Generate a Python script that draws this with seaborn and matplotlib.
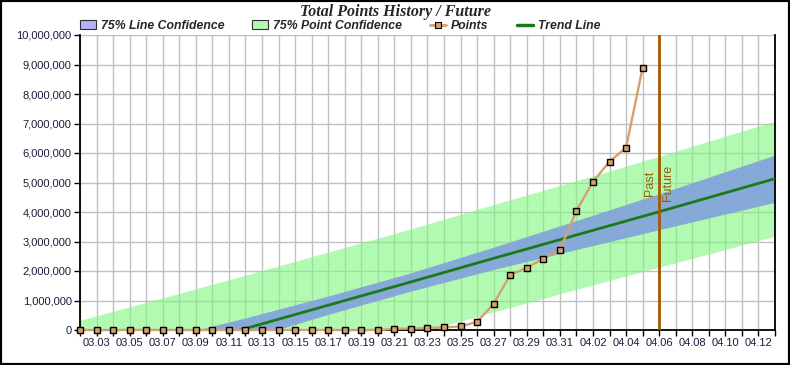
import matplotlib
matplotlib.use('Agg')
import matplotlib.pyplot as plt
import matplotlib.dates as mdates
import matplotlib.ticker as mticker
from matplotlib.patches import Patch, Rectangle
from matplotlib.lines import Line2D
from matplotlib.font_manager import FontProperties
import seaborn as sns
import pandas as pd

YEAR = '2011'

point_dates = ['03.02', '03.03', '03.04', '03.05', '03.06', '03.07', '03.08', '03.09',
               '03.10', '03.11', '03.12', '03.13', '03.14', '03.15', '03.16', '03.17',
               '03.18', '03.19', '03.20', '03.21', '03.22', '03.23', '03.24', '03.25',
               '03.26', '03.27', '03.28', '03.29', '03.30', '03.31', '04.01', '04.02',
               '04.03', '04.04', '04.05']
point_values = [0, 0, 0, 0, 0, 0, 0, 0,
                0, 0, 0, 0, 0, 0, 0, 0,
                0, 0, 0, 40000, 50000, 60000, 90000, 120000,
                280000, 890000, 1870000, 2110000, 2420000, 2720000, 4040000, 5030000,
                5710000, 6180000, 8890000]

band_dates = ['03.02', '03.07', '03.12', '03.17', '03.22', '03.27', '04.01', '04.06', '04.13']
trend_values = [-1540000, -750000, 50000, 840000, 1630000, 2430000, 3220000, 4010000, 5130000]
line_conf_low = [-2130000, -1220000, -320000, 530000, 1320000, 2050000, 2730000, 3400000, 4330000]
line_conf_high = [-950000, -280000, 410000, 1150000, 1940000, 2810000, 3710000, 4620000, 5930000]
point_conf_low = [-3410000, -2590000, -1770000, -960000, -170000, 610000, 1380000, 2130000, 3180000]
point_conf_high = [330000, 1090000, 1860000, 2640000, 3430000, 4250000, 5060000, 5890000, 7080000]

tick_labels = ['03.03', '03.05', '03.07', '03.09', '03.11', '03.13', '03.15', '03.17',
               '03.19', '03.21', '03.23', '03.25', '03.27', '03.29', '03.31', '04.02',
               '04.04', '04.06', '04.08', '04.10', '04.12']
x_range = ['03.02', '04.13']
divider_date = '04.06'
y_ticks = [0, 1000000, 2000000, 3000000, 4000000, 5000000, 6000000, 7000000, 8000000, 9000000, 10000000]

title = 'Total Points History / Future'
legend_labels = ['75% Line Confidence', '75% Point Confidence', 'Points', 'Trend Line']


def to_dt(lst):
    return pd.to_datetime([YEAR + '.' + s for s in lst], format='%Y.%m.%d')


pdates = to_dt(point_dates)
bdates = to_dt(band_dates)
tdates = to_dt(tick_labels)
xr = to_dt(x_range)
div = to_dt([divider_date])[0]

sns.set_theme(style='white')
plt.rcParams['font.family'] = ['Liberation Sans', 'DejaVu Sans']

C_GREEN = '#80f680'
C_BLUE = '#83a1dc'
C_TREND = '#1a7a1a'
C_POINTS = '#d4a070'
C_DIV = '#a05a00'
C_LABEL = '#1c1c3c'

fig = plt.figure(figsize=(7.9, 3.65), dpi=100)
fig.patch.set_facecolor('white')
ax = fig.add_axes([80 / 790, 35 / 365, 695 / 790, 295 / 365])
ax.set_facecolor('white')

ax.fill_between(bdates, point_conf_low, point_conf_high, color=C_GREEN, alpha=0.6, lw=0, zorder=1)
ax.fill_between(bdates, line_conf_low, line_conf_high, color=C_BLUE, alpha=0.9, lw=0, zorder=2)
sns.lineplot(x=bdates, y=trend_values, color=C_TREND, lw=2, ax=ax, zorder=3)
ax.axvline(div, color=C_DIV, lw=2, zorder=4)
sns.lineplot(x=pdates, y=point_values, color=C_POINTS, lw=1.7, marker='s', markersize=5,
             markerfacecolor='#d4a06c', markeredgecolor='black', markeredgewidth=1,
             ax=ax, zorder=5, clip_on=False)

ax.annotate('Past', xy=(div, 4980000), xytext=(-2, 0), textcoords='offset points',
            rotation=90, ha='right', va='center', color=C_DIV, fontsize=9)
ax.annotate('Future', xy=(div, 4980000), xytext=(2, 0), textcoords='offset points',
            rotation=90, ha='left', va='center', color=C_DIV, fontsize=9)

ax.set_xlim(xr[0], xr[1])
ax.set_ylim(0, 10000000)
ax.set_xticks(tdates)
ax.set_xticklabels(tick_labels)
ax.xaxis.set_minor_locator(mdates.DayLocator())
ax.set_yticks(y_ticks)
ax.yaxis.set_major_formatter(mticker.FuncFormatter(lambda v, p: f'{int(v):,}'))
ax.set_xlabel('')
ax.set_ylabel('')

ax.set_axisbelow(True)
ax.grid(which='both', axis='x', color='#c0c0c0', lw=1)
ax.grid(which='major', axis='y', color='#c0c0c0', lw=1)

ax.tick_params(axis='both', which='both', direction='out', length=4, width=1, color='black',
               labelcolor=C_LABEL, labelsize=8, pad=2)
ax.tick_params(axis='x', which='both', bottom=True)
ax.tick_params(axis='y', which='both', left=True)

for side in ['left', 'bottom', 'right']:
    ax.spines[side].set_visible(True)
    ax.spines[side].set_color('black')
    ax.spines[side].set_linewidth(1.3)
ax.spines['top'].set_visible(False)

handles = [
    Patch(facecolor='#b4b4f4', edgecolor='#303030', lw=0.8, label=legend_labels[0]),
    Patch(facecolor='#b4f8b4', edgecolor='#303030', lw=0.8, label=legend_labels[1]),
    Line2D([], [], color=C_POINTS, lw=2, marker='s', markersize=5, markerfacecolor='#d4a06c',
           markeredgecolor='black', markeredgewidth=0.8, label=legend_labels[2]),
    Line2D([], [], color=C_TREND, lw=2.5, label=legend_labels[3]),
]
fig.legend(handles=handles, ncol=4, loc='center', bbox_to_anchor=(340 / 790, 1 - 26 / 365),
           frameon=False,
           prop=FontProperties(family=['Liberation Sans'], weight='bold', style='italic', size=8.8),
           handlelength=1.3, handleheight=0.8, columnspacing=2.3, handletextpad=0.4,
           borderpad=0, borderaxespad=0)

fig.text(0.5, 1 - 12 / 365, title, ha='center', va='center',
         family=['Liberation Serif', 'DejaVu Serif'], weight='bold', style='italic', size=11.5)

fig.patches.append(Rectangle((0, 0), 1, 1, transform=fig.transFigure, fill=False,
                             edgecolor='black', lw=3, zorder=10))

fig.savefig('out.png', dpi=100, facecolor='white')
